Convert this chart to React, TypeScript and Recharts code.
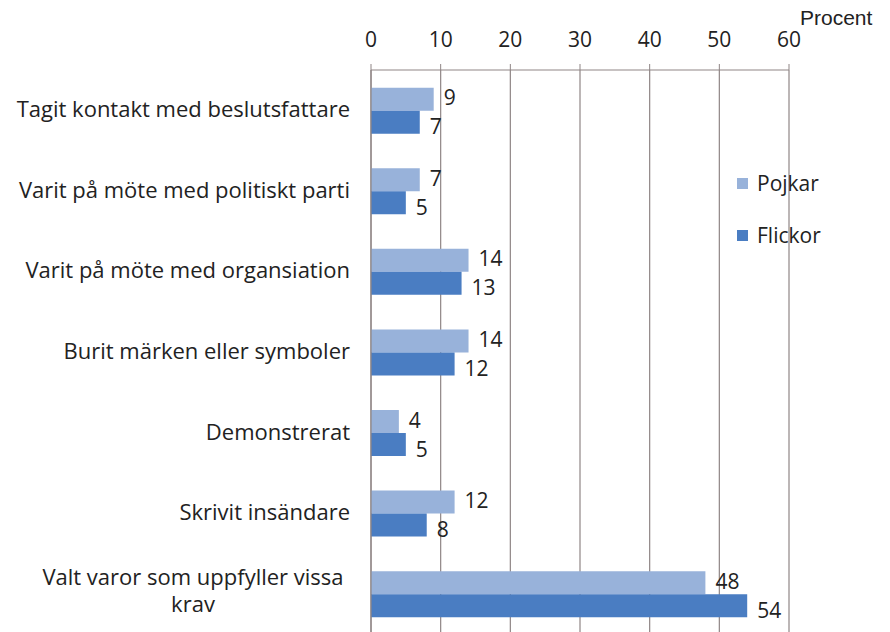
import { BarChart, Bar, XAxis, YAxis, CartesianGrid, LabelList } from "recharts";

const categories = [
  "Tagit kontakt med beslutsfattare",
  "Varit på möte med politiskt parti",
  "Varit på möte med organsiation",
  "Burit märken eller symboler",
  "Demonstrerat",
  "Skrivit insändare",
  "Valt varor som uppfyller vissa\nkrav",
];
const pojkar = [9, 7, 14, 14, 4, 12, 48];
const flickor = [7, 5, 13, 12, 5, 8, 54];
const xTicks = [0, 10, 20, 30, 40, 50, 60];

const data = categories.map((name, i) => ({
  name,
  Pojkar: pojkar[i],
  Flickor: flickor[i],
}));

const FONT = "'Open Sans', 'DejaVu Sans', sans-serif";
const GRID = "#8f8585";
const C_POJKAR = "#98b2da";
const C_FLICKOR = "#4a7dc2";

const CategoryTick = (props: any) => {
  const { x, y, payload } = props;
  const lines = String(payload.value).split("\n");
  if (lines.length === 1) {
    return (
      <text x={x} y={y} dy={7} textAnchor="end" fontSize={22} fontFamily={FONT} fill="#222">
        {lines[0]}
      </text>
    );
  }
  // wrapped labels are centred, like Excel does
  const cx = x - 157;
  return (
    <text x={cx} y={y} textAnchor="middle" fontSize={22} fontFamily={FONT} fill="#222">
      {lines.map((l, i) => (
        <tspan key={i} x={cx} dy={i === 0 ? -9 : 27}>
          {l}
        </tspan>
      ))}
    </text>
  );
};

const ValueLabel = (shift: number) => (props: any) => {
  const { x, y, width, height, value } = props;
  return (
    <text
      x={x + width + 10}
      y={y + height / 2 + shift}
      dominantBaseline="central"
      fontSize={21}
      fontFamily={FONT}
      fill="#222"
    >
      {value}
    </text>
  );
};

const legendItems = [
  ["Pojkar", C_POJKAR],
  ["Flickor", C_FLICKOR],
];

export default function App() {
  return (
    <div style={{ position: "fixed", left: 0, top: 0, width: 890, height: 632, overflow: "hidden", background: "#fff" }}>
      <BarChart
        width={890}
        height={636}
        data={data}
        layout="vertical"
        margin={{ top: 40, right: 101, left: 0, bottom: 2 }}
        barCategoryGap="22%"
        barGap={0}
      >
        <CartesianGrid horizontal={false} stroke={GRID} strokeWidth={1.2} />
        <XAxis
          type="number"
          orientation="top"
          domain={[0, 60]}
          ticks={xTicks}
          height={30}
          tickSize={6}
          tickMargin={17}
          axisLine={{ stroke: GRID }}
          tickLine={{ stroke: GRID }}
          tick={{ fontSize: 21, fontFamily: FONT, fill: "#222" }}
        />
        <YAxis
          type="category"
          dataKey="name"
          width={371}
          tickSize={0}
          tickMargin={21}
          tickLine={false}
          axisLine={{ stroke: GRID, strokeWidth: 1.2 }}
          tick={<CategoryTick />}
          interval={0}
        />
        <Bar dataKey="Pojkar" fill={C_POJKAR} isAnimationActive={false}>
          <LabelList dataKey="Pojkar" content={ValueLabel(-2)} />
        </Bar>
        <Bar dataKey="Flickor" fill={C_FLICKOR} isAnimationActive={false}>
          <LabelList dataKey="Flickor" content={ValueLabel(4)} />
        </Bar>
      </BarChart>
      <div style={{ position: "absolute", left: 737, top: 170, fontFamily: FONT, fontSize: 21, color: "#222" }}>
        {legendItems.map(([label, color]) => (
          <div key={label} style={{ display: "flex", alignItems: "center", height: 26, marginBottom: 26 }}>
            <span style={{ width: 11, height: 11, background: color, marginRight: 9, display: "inline-block" }} />
            {label}
          </div>
        ))}
      </div>
      <div
        style={{
          position: "absolute",
          left: 800,
          top: 6,
          fontFamily: "'Liberation Sans', Arial, sans-serif",
          fontSize: 21,
          color: "#222",
        }}
      >
        Procent
      </div>
    </div>
  );
}
